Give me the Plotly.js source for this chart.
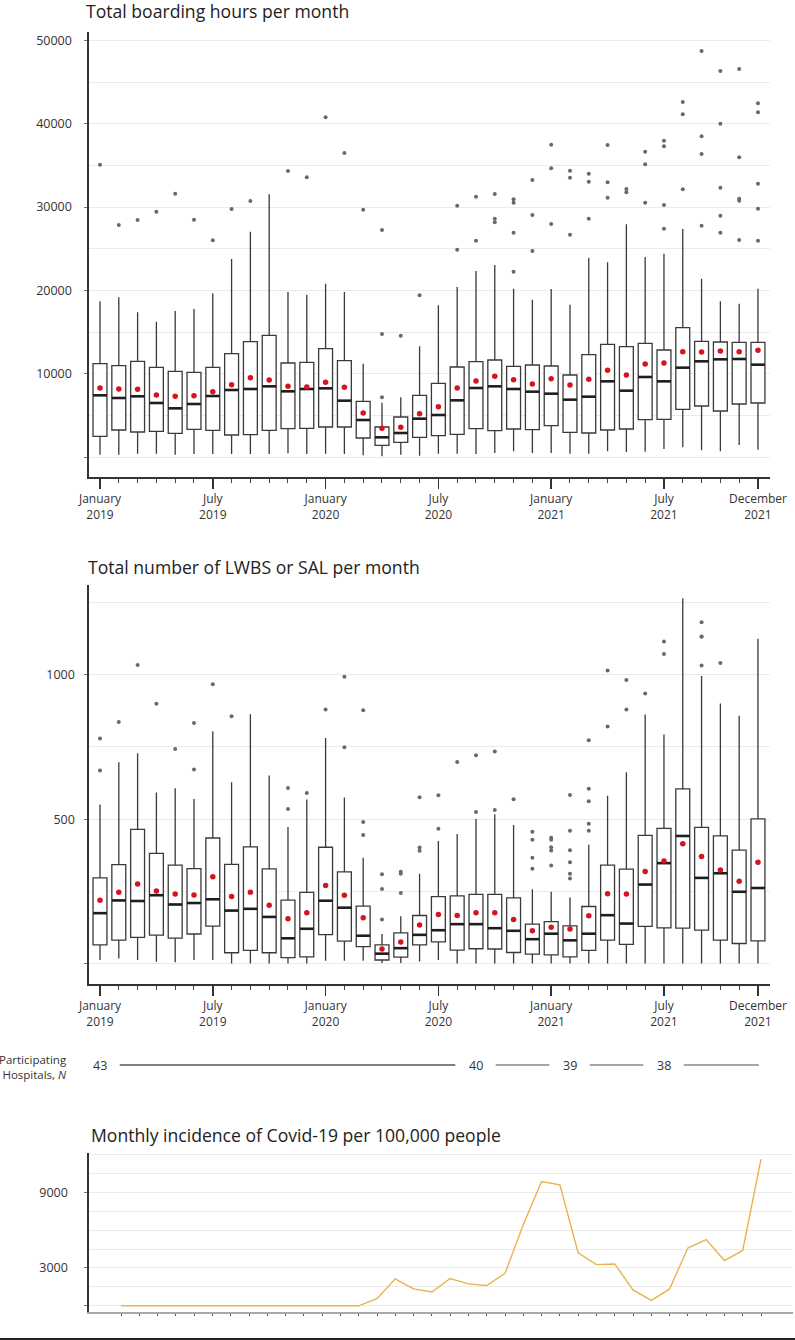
<!DOCTYPE html>
<html>
<head>
<meta charset="utf-8">
<script src="https://cdn.plot.ly/plotly-3.0.1.min.js"></script>
<style>
  html, body { margin: 0; padding: 0; background: #ffffff; }
  #chart { width: 795px; height: 1340px; }
</style>
</head>
<body>
<div id="chart"></div>
<script>
// ---------------- DATA ----------------
const monthLabels = [
  'Jan 2019','Feb 2019','Mar 2019','Apr 2019','May 2019','Jun 2019','Jul 2019','Aug 2019','Sep 2019','Oct 2019','Nov 2019','Dec 2019',
  'Jan 2020','Feb 2020','Mar 2020','Apr 2020','May 2020','Jun 2020','Jul 2020','Aug 2020','Sep 2020','Oct 2020','Nov 2020','Dec 2020',
  'Jan 2021','Feb 2021','Mar 2021','Apr 2021','May 2021','Jun 2021','Jul 2021','Aug 2021','Sep 2021','Oct 2021','Nov 2021','Dec 2021'
];
const xTickPositions = [0, 6, 12, 18, 24, 30, 35];
const xTickText = ['January<br>2019','July<br>2019','January<br>2020','July<br>2020','January<br>2021','July<br>2021','December<br>2021'];

// Total boarding hours per month
const bhLow  = [280,280,400,400,280,360,360,360,360,360,440,360,400,360,200,80,280,160,400,400,360,480,680,480,480,400,400,680,600,640,960,1160,800,680,1440,880];
const bhQ1   = [2480,3240,3000,3080,2840,3320,3200,2640,2680,3200,3400,3440,3600,3600,2280,1400,1760,2360,2560,2720,3400,3160,3360,3280,3760,2960,2880,3240,3360,4480,4520,5720,6120,5520,6360,6480];
const bhMed  = [7400,7080,7280,6480,5840,6360,7320,8040,8160,8480,7880,8160,8240,6760,4440,2360,2880,4600,5040,6800,8280,8480,8160,7840,7600,6880,7240,9080,7960,9600,9080,10720,11480,11720,11760,11080];
const bhQ3   = [11200,10960,11480,10760,10280,10160,10760,12400,13840,14600,11280,11360,13000,11560,6680,3600,4800,7400,8840,10800,11440,11640,10880,11040,10920,9840,12280,13520,13240,13640,12840,15520,13880,13800,13760,13760];
const bhHigh = [18680,19160,17360,16240,17520,17760,19640,23760,27040,31520,19800,19480,20800,19800,11200,6520,7160,13280,18200,20400,22320,23040,20200,18880,20160,18280,23920,23360,27920,24000,24400,27360,21400,18680,18400,20200];
const bhMean = [8280,8160,8120,7440,7280,7360,7840,8680,9520,9240,8480,8400,8960,8360,5280,3440,3560,5200,6040,8280,9120,9680,9280,8760,9400,8640,9320,10400,9840,11160,11280,12640,12600,12720,12640,12800];
const bhOutliers = [[35080],[27840],[28440],[29440],[31600],[28480],[26000],[29760],[30720],[],[34320],[33560],
  [40760],[36480],[29680],[27240,14760,7160],[14560],[19400],[],[30160,24880],[31240,25960],[31560,28600,28160],[30920,30520,26920,22240],[33240,29040,24720],
  [37480,34640,27960],[34360,33520,26680],[34000,33040,28600],[37440,32960,31120],[32160,31760],[36640,35120,30520],[37960,37280,30240,27400],[42600,41120,32120],[48720,38480,36360,27760],[46320,40000,32320,28960,26920],[46560,35960,31000,30760,26040],[42440,41360,32800,29800,25960]];

// Total number of LWBS or SAL per month
const lwLow  = [13,18,13,7,5,13,13,1,1,1,1,1,10,10,10,3,3,8,13,1,1,1,1,1,1,1,1,1,1,1,1,1,1,1,1,1];
const lwQ1   = [65,82,91,99,89,103,130,38,46,38,21,24,101,78,59,13,23,65,76,47,52,51,39,33,31,24,46,82,67,129,124,123,116,82,70,79];
const lwMed  = [175,219,217,237,205,210,223,184,190,162,88,121,218,194,97,35,54,100,116,137,137,123,114,85,104,81,104,168,139,274,348,442,297,313,249,262];
const lwQ3   = [297,343,465,382,341,329,435,344,404,328,220,247,403,318,199,65,107,167,232,235,240,240,228,137,146,131,198,341,327,444,468,605,472,442,393,501];
const lwHigh = [551,697,728,592,607,570,804,628,863,651,473,568,781,575,367,103,164,311,425,449,501,517,480,258,249,229,412,581,662,862,793,1263,995,900,858,1124];
const lwMean = [220,247,276,252,241,238,301,233,247,202,156,176,271,237,159,51,75,134,170,167,176,176,153,114,126,120,166,242,241,319,355,415,371,324,285,351];
const lwOutliers = [[779,668],[836],[1033],[899],[743],[833,672],[967],[856],[],[],[608,535],[591],
  [879],[993,749],[877,490,445],[310,259,153],[318,311,245],[576,402,391],[583,467],[698],[721,525],[734,532],[569],[457,429,367,329],
  [436,429,403,392,340],[584,460,393,351,311,295],[773,605,562,484,460],[1014,821],[981,879],[935],[1115,1071],[],[1181,1132,1131,1032],[1040],[],[]];

// Participating hospitals
const hospitalN = ['43','40','39','38'];
const hospitalStartMonth = [0, 20, 25, 30];

// Monthly incidence of Covid-19 per 100,000 people
const covidIncidence = [0,0,0,0,0,0,0,0,0,0,0,0,0,0,563,2143,1340,1098,2170,1741,1607,2572,6430,9859,9591,4206,3268,3322,1259,429,1340,4581,5251,3590,4394,11627];

// ---------------- LAYOUT HELPERS ----------------
const W = 795, H = 1340;
const px = v => v / W;
const py = v => 1 - v / H;
const monthIdx = monthLabels.map((_, i) => i);

function flatten(out) {
  const xs = [], ys = [];
  out.forEach((arr, i) => arr.forEach(v => { xs.push(i); ys.push(v); }));
  return {xs, ys};
}

const FONT = 'Open Sans, Noto Sans, sans-serif';
const BOXW = 0.74;

function boxTraces(xa, ya, low, q1, med, q3, high, mean, out) {
  const o = flatten(out);
  return [
    {type: 'box', x: monthIdx, q1: q1, median: med, q3: q3, lowerfence: low, upperfence: high,
     width: BOXW, fillcolor: '#ffffff', line: {color: '#3a3a3a', width: 1.3}, whiskerwidth: 0,
     boxpoints: false, xaxis: xa, yaxis: ya, hoverinfo: 'skip', showlegend: false},
    {type: 'scatter', mode: 'markers', x: monthIdx, y: med, xaxis: xa, yaxis: ya,
     marker: {symbol: 'line-ew', size: 9.9, line: {color: '#1e1e1e', width: 2.6}}, hoverinfo: 'skip', showlegend: false},
    {type: 'scatter', mode: 'markers', x: o.xs, y: o.ys, xaxis: xa, yaxis: ya,
     marker: {color: '#5e6e6e', size: 4}, hoverinfo: 'skip', showlegend: false},
    {type: 'scatter', mode: 'markers', x: monthIdx, y: mean, xaxis: xa, yaxis: ya,
     marker: {color: '#d7141e', size: 5.5}, hoverinfo: 'skip', showlegend: false}
  ];
}

const data = [].concat(
  boxTraces('x', 'y', bhLow, bhQ1, bhMed, bhQ3, bhHigh, bhMean, bhOutliers),
  boxTraces('x2', 'y2', lwLow, lwQ1, lwMed, lwQ3, lwHigh, lwMean, lwOutliers),
  [{type: 'scatter', mode: 'lines', x: monthIdx, y: covidIncidence, xaxis: 'x3', yaxis: 'y3',
    line: {color: '#eab24e', width: 1.4}, hoverinfo: 'skip', showlegend: false}]
);

const gridColor = '#ebebeb';
function xBoxAxis(anchor) {
  return {
    domain: [px(89), px(770)], anchor: anchor, range: [-0.585, 35.64],
    showline: true, linecolor: '#333333', linewidth: 1.6,
    tickmode: 'array', tickvals: xTickPositions, ticktext: xTickText,
    ticks: 'outside', ticklen: 10, tickwidth: 1.6, tickcolor: '#333333',
    minor: {tickmode: 'array', tickvals: monthIdx, ticks: 'outside', ticklen: 4, tickwidth: 1, tickcolor: '#444444', showgrid: false},
    showgrid: false, zeroline: false,
    tickfont: {family: FONT, size: 12, color: '#333333'}
  };
}
function yAxis(anchor, domain, range, vals, text, minorVals, standoff, lineColor) {
  return {
    domain: domain, anchor: anchor, range: range,
    showline: true, linecolor: lineColor || '#333333', linewidth: 1.6,
    tickmode: 'array', tickvals: vals, ticktext: text,
    ticks: 'outside', ticklen: 3, tickcolor: '#777777', tickwidth: 1,
    ticklabelstandoff: standoff,
    showgrid: true, gridcolor: gridColor, gridwidth: 1, zeroline: false,
    minor: {tickmode: 'array', tickvals: minorVals, showgrid: true, gridcolor: gridColor, gridwidth: 1, ticks: ''},
    tickfont: {family: FONT, size: 12.5, color: '#333333'}
  };
}

const TITLE_SIZE = 17.6;
const annotations = [
  {text: 'Total boarding hours per month', xref: 'paper', yref: 'paper', x: px(84), y: py(-3),
   xanchor: 'left', yanchor: 'top', showarrow: false, font: {family: FONT, size: TITLE_SIZE, color: '#222222'}},
  {text: 'Total number of LWBS or SAL per month', xref: 'paper', yref: 'paper', x: px(86), y: py(567),
   xanchor: 'left', yanchor: 'middle', showarrow: false, font: {family: FONT, size: TITLE_SIZE, color: '#222222'}},
  {text: 'Monthly incidence of Covid-19 per 100,000 people', xref: 'paper', yref: 'paper', x: px(89), y: py(1135),
   xanchor: 'left', yanchor: 'middle', showarrow: false, font: {family: FONT, size: TITLE_SIZE, color: '#222222'}},
  {text: 'Participating<br>Hospitals, <i>N</i>', xref: 'paper', yref: 'paper', x: px(69), y: py(1067),
   xanchor: 'right', yanchor: 'middle', align: 'right', showarrow: false, font: {family: FONT, size: 11.5, color: '#333333'}}
];
const shapes = [];
hospitalN.forEach((n, i) => {
  annotations.push({text: n, xref: 'x2', yref: 'paper', x: hospitalStartMonth[i], y: py(1065),
    xanchor: 'center', yanchor: 'middle', showarrow: false, font: {family: FONT, size: 12.5, color: '#333333'}});
  const x0 = hospitalStartMonth[i] + 1.05;
  const x1 = i + 1 < hospitalStartMonth.length ? hospitalStartMonth[i + 1] - 1.1 : 35.05;
  shapes.push({type: 'line', xref: 'x2', yref: 'paper', x0: x0, x1: x1, y0: py(1065), y1: py(1065),
    line: {color: i === 0 ? '#555555' : '#888888', width: 1.5}});
});
shapes.push({type: 'line', xref: 'paper', yref: 'paper', x0: 0, x1: 1, y0: py(1339), y1: py(1339),
  line: {color: '#222222', width: 2}});

const layout = {
  width: W, height: H,
  margin: {l: 0, r: 0, t: 0, b: 0},
  paper_bgcolor: '#ffffff', plot_bgcolor: '#ffffff',
  showlegend: false,
  font: {family: FONT, color: '#333333'},
  xaxis: xBoxAxis('y'),
  yaxis: yAxis('x', [py(477), py(32)], [-2400, 51000],
    [0, 10000, 20000, 30000, 40000, 50000], ['', '10000', '20000', '30000', '40000', '50000'],
    [5000, 15000, 25000, 35000, 45000], 10),
  xaxis2: xBoxAxis('y2'),
  yaxis2: yAxis('x2', [py(984), py(585)], [-70, 1310],
    [0, 500, 1000], ['', '500', '1000'], [250, 750, 1250], 7),
  xaxis3: {
    domain: [px(89), px(793)], anchor: 'y3', range: [-1.75, 36.75],
    showline: true, linecolor: '#a8a8a8', linewidth: 2,
    tickmode: 'array', tickvals: monthIdx, ticktext: monthIdx.map(() => ''),
    ticks: 'outside', ticklen: 2, tickwidth: 1, tickcolor: '#555555',
    showgrid: false, zeroline: false
  },
  yaxis3: yAxis('x3', [py(1312), py(1153)], [-490, 12120],
    [0, 3000, 9000], ['', '3000', '9000'], [1500, 4500, 6000, 7500, 10500, 12000], 14),
  annotations: annotations,
  shapes: shapes
};

Plotly.newPlot('chart', data, layout, {staticPlot: true, displayModeBar: false});
</script>
</body>
</html>
